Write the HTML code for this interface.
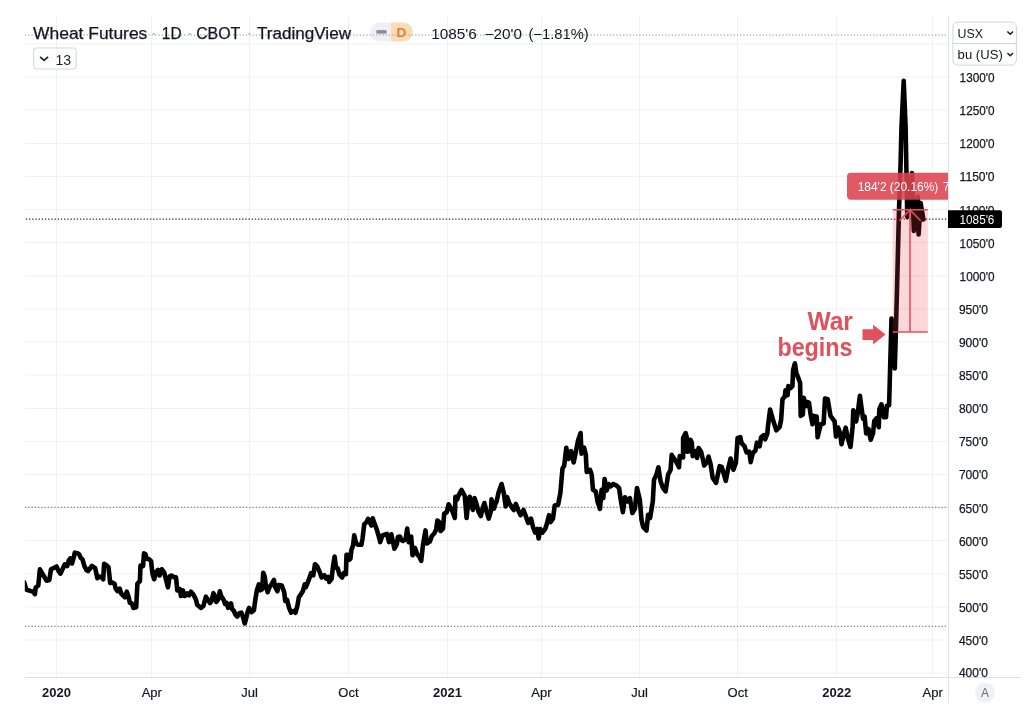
<!DOCTYPE html>
<html><head><meta charset="utf-8"><style>
html,body{margin:0;padding:0;background:#fff;}
body{width:1024px;height:723px;position:relative;overflow:hidden;font-family:"Liberation Sans", sans-serif;}
</style></head><body>
<svg width="1024" height="723" viewBox="0 0 1024 723" style="position:absolute;left:0;top:0;will-change:transform"><clipPath id="pane"><rect x="24.8" y="16" width="923.5" height="661.5"/></clipPath><g stroke="#f0f1f2" stroke-width="1.1"><line x1="25" y1="44.0" x2="948.5" y2="44.0"/><line x1="25" y1="77.0" x2="948.5" y2="77.0"/><line x1="25" y1="110.0" x2="948.5" y2="110.0"/><line x1="25" y1="143.5" x2="948.5" y2="143.5"/><line x1="25" y1="176.5" x2="948.5" y2="176.5"/><line x1="25" y1="209.5" x2="948.5" y2="209.5"/><line x1="25" y1="242.5" x2="948.5" y2="242.5"/><line x1="25" y1="276.0" x2="948.5" y2="276.0"/><line x1="25" y1="309.0" x2="948.5" y2="309.0"/><line x1="25" y1="342.0" x2="948.5" y2="342.0"/><line x1="25" y1="375.0" x2="948.5" y2="375.0"/><line x1="25" y1="408.5" x2="948.5" y2="408.5"/><line x1="25" y1="441.5" x2="948.5" y2="441.5"/><line x1="25" y1="474.5" x2="948.5" y2="474.5"/><line x1="25" y1="507.5" x2="948.5" y2="507.5"/><line x1="25" y1="540.5" x2="948.5" y2="540.5"/><line x1="25" y1="574.0" x2="948.5" y2="574.0"/><line x1="25" y1="607.0" x2="948.5" y2="607.0"/><line x1="25" y1="640.0" x2="948.5" y2="640.0"/><line x1="25" y1="673.0" x2="948.5" y2="673.0"/><line x1="56.5" y1="16" x2="56.5" y2="677.5"/><line x1="151.5" y1="16" x2="151.5" y2="677.5"/><line x1="249.5" y1="16" x2="249.5" y2="677.5"/><line x1="348.5" y1="16" x2="348.5" y2="677.5"/><line x1="447.5" y1="16" x2="447.5" y2="677.5"/><line x1="541.5" y1="16" x2="541.5" y2="677.5"/><line x1="639.5" y1="16" x2="639.5" y2="677.5"/><line x1="737.5" y1="16" x2="737.5" y2="677.5"/><line x1="836.5" y1="16" x2="836.5" y2="677.5"/><line x1="932.5" y1="16" x2="932.5" y2="677.5"/></g><g fill="#9a9da6"><circle cx="154" cy="33.8" r="0.9"/><circle cx="189.8" cy="33.8" r="0.9"/><circle cx="249.3" cy="33.8" r="0.9"/></g><path d="M379.4,22.4 H391 V41.6 H379.4 a9.6,9.6 0 0 1 0,-19.2 Z" fill="#eef0f3"/><path d="M391,22.4 H403.2 a9.6,9.6 0 0 1 0,19.2 H391 Z" fill="#f9dcb3"/><rect x="376" y="30.1" width="10.8" height="3.6" rx="1.8" fill="#8e919b"/><text x="396.6" y="37.2" font-family='"Liberation Sans", sans-serif' font-weight="bold" font-size="13.6" fill="#e9772d">D</text><line x1="25.9" y1="219.1" x2="947.5" y2="219.1" stroke="#2b2b2e" stroke-width="1.3" stroke-dasharray="1.3 1.88"/><g stroke="#80838b" stroke-width="1.3" stroke-dasharray="1.3 1.95"><line x1="25" y1="507.4" x2="947.5" y2="507.4"/><line x1="25" y1="626.3" x2="947.5" y2="626.3"/></g><line x1="25" y1="35" x2="947.0" y2="35" stroke="#b4b7be" stroke-width="1.3" stroke-dasharray="1.3 1.95"/><path d="M24.0,582.0 L26.3,589.5 L28.3,590.3 L31.1,591.1 L33.3,591.8 L34.9,594.2 L35.7,587.6 L38.3,585.4 L39.9,569.3 L42.1,573.2 L46.5,580.7 L49.3,580.0 L51.0,569.3 L53.2,568.2 L56.5,566.5 L58.2,570.4 L60.4,573.7 L62.6,569.0 L64.8,564.3 L67.3,566.0 L68.7,560.8 L70.3,558.3 L72.0,563.5 L73.7,557.7 L74.8,552.7 L77.5,553.3 L79.2,554.4 L80.6,557.7 L82.5,559.4 L84.2,565.4 L86.4,570.1 L88.0,571.0 L91.9,566.0 L95.2,568.2 L97.4,578.2 L99.1,576.5 L101.3,577.1 L103.2,579.3 L104.1,563.8 L106.1,564.9 L108.5,567.1 L110.2,583.1 L112.4,582.6 L114.6,583.7 L115.6,588.6 L117.5,591.1 L119.7,588.6 L121.2,593.5 L123.7,596.0 L125.0,597.3 L126.8,591.7 L128.7,597.3 L129.9,602.9 L131.8,603.5 L133.4,607.9 L136.2,607.2 L137.4,583.6 L139.9,581.1 L140.5,565.5 L143.0,566.2 L144.0,553.4 L145.5,554.3 L146.8,558.7 L149.2,559.3 L151.1,561.2 L152.4,573.6 L154.2,579.2 L156.1,571.8 L158.0,569.9 L159.6,575.5 L161.7,569.3 L164.2,572.4 L166.1,580.0 L167.9,587.3 L169.8,576.1 L171.7,575.5 L174.2,577.4 L176.0,577.4 L177.3,590.4 L179.8,589.2 L181.0,596.0 L182.9,590.4 L184.7,596.0 L187.2,593.5 L189.1,595.4 L191.0,591.7 L193.5,594.8 L196.0,599.8 L197.2,604.8 L200.9,607.9 L203.4,606.0 L205.9,596.7 L210.0,603.0 L211.5,601.0 L213.4,593.2 L214.9,596.1 L216.3,602.0 L218.3,599.1 L219.8,591.3 L221.2,596.1 L223.7,600.0 L225.1,603.9 L226.6,603.0 L228.1,607.9 L231.0,603.5 L232.0,608.8 L233.9,610.8 L235.4,614.7 L237.3,616.6 L239.3,613.2 L241.3,612.7 L242.7,616.2 L244.7,623.5 L246.1,618.6 L247.6,611.8 L249.1,607.9 L251.5,612.2 L253.9,610.3 L255.4,599.1 L256.9,590.3 L258.8,584.4 L260.3,590.3 L262.2,589.3 L263.2,572.7 L264.7,576.6 L265.7,584.4 L267.6,592.2 L269.6,586.9 L271.5,584.4 L274.0,580.0 L274.9,586.4 L277.4,591.3 L278.8,584.9 L281.8,585.4 L284.2,592.2 L285.2,601.0 L287.1,600.0 L289.1,607.9 L291.1,612.7 L294.0,610.8 L295.5,612.7 L297.4,605.9 L298.9,597.1 L300.3,595.2 L302.8,591.3 L304.7,584.4 L305.6,587.4 L307.2,584.1 L310.0,576.4 L311.1,573.1 L313.3,575.3 L315.0,564.2 L317.2,566.4 L319.9,572.5 L321.6,577.5 L324.4,575.3 L326.0,578.6 L328.2,576.9 L329.3,581.9 L331.5,579.1 L333.2,565.3 L334.6,556.5 L336.0,567.5 L337.6,568.1 L339.3,574.2 L342.1,577.5 L343.7,573.1 L345.9,574.2 L346.5,554.8 L348.1,554.8 L349.2,559.8 L350.4,558.7 L351.5,549.8 L353.1,545.4 L354.2,535.4 L356.1,543.2 L358.1,544.8 L361.4,544.8 L362.5,538.8 L364.2,524.4 L366.4,522.2 L368.1,518.8 L370.3,523.3 L371.4,525.5 L372.7,518.3 L374.1,522.2 L376.9,529.9 L379.1,537.7 L380.2,542.1 L382.4,535.4 L386.9,533.8 L389.1,542.1 L391.3,534.3 L393.5,544.3 L394.4,548.7 L396.8,544.3 L397.9,537.1 L400.0,536.6 L401.2,539.8 L403.1,541.0 L405.6,539.1 L407.2,528.5 L408.7,542.2 L411.2,536.6 L412.5,555.3 L414.9,547.9 L417.4,554.7 L419.3,556.6 L421.2,560.9 L423.0,544.7 L425.5,530.4 L426.8,543.5 L429.9,541.6 L431.8,536.0 L434.2,533.5 L436.1,529.8 L437.4,520.5 L439.9,523.0 L440.5,531.0 L443.0,528.5 L444.2,513.6 L446.7,512.4 L448.6,504.3 L450.4,507.4 L452.9,512.4 L454.8,518.0 L455.4,496.8 L457.3,499.3 L458.5,495.5 L461.6,490.0 L464.8,496.2 L466.6,518.0 L467.9,504.9 L469.7,496.8 L471.6,506.8 L472.9,509.9 L474.5,498.0 L476.6,504.3 L478.5,511.7 L480.9,516.1 L482.2,509.9 L484.4,503.0 L486.6,511.7 L488.7,518.6 L490.9,511.1 L491.5,499.3 L494.0,508.6 L495.0,504.8 L496.7,501.3 L498.5,492.7 L501.6,484.0 L503.7,492.7 L505.7,506.5 L507.1,497.0 L509.2,503.0 L511.4,506.5 L513.7,510.0 L515.8,503.9 L518.4,510.8 L520.6,515.2 L523.5,510.0 L526.1,516.9 L528.2,522.9 L531.0,518.6 L533.1,527.3 L535.1,532.5 L537.4,529.0 L538.6,538.5 L540.3,529.0 L542.6,532.5 L545.2,529.0 L546.9,523.8 L549.0,515.2 L550.7,522.1 L553.0,518.6 L554.7,505.6 L558.1,504.8 L560.4,492.7 L562.5,468.4 L564.2,465.8 L566.3,447.7 L568.5,458.9 L571.1,451.1 L573.7,462.4 L576.0,451.1 L578.0,440.8 L580.6,433.0 L581.5,453.7 L584.1,447.7 L585.8,454.6 L586.7,471.9 L589.3,471.0 L590.0,469.8 L591.7,474.8 L593.0,489.8 L595.8,491.4 L597.5,501.4 L600.0,508.9 L601.6,489.8 L603.3,498.1 L604.6,479.0 L606.6,490.6 L608.6,484.0 L610.8,486.4 L613.3,484.0 L616.6,485.6 L619.1,488.1 L620.7,499.7 L622.9,512.2 L624.9,497.2 L627.4,501.4 L629.9,498.1 L632.4,513.0 L634.9,508.9 L637.0,488.1 L639.8,499.7 L641.5,519.7 L643.2,527.1 L646.5,530.5 L648.1,514.7 L650.1,518.0 L652.8,501.4 L654.0,479.8 L656.4,474.8 L658.4,467.3 L660.6,481.5 L663.1,488.1 L665.6,491.4 L668.1,474.8 L670.6,469.8 L671.7,454.9 L676.2,461.7 L679.0,467.3 L679.7,456.1 L683.1,457.4 L683.1,438.1 L685.6,433.1 L686.8,437.4 L687.4,451.8 L689.3,451.1 L690.6,439.9 L691.8,442.4 L692.7,456.1 L695.5,451.1 L697.1,458.0 L698.6,448.0 L701.1,451.8 L703.0,459.8 L704.2,465.4 L707.1,462.1 L708.5,456.5 L710.6,464.2 L712.7,478.0 L716.1,482.8 L719.6,466.2 L721.7,466.9 L725.8,480.8 L727.9,469.7 L730.6,458.6 L733.4,469.7 L735.9,462.8 L737.6,437.9 L740.3,437.2 L741.7,443.4 L744.5,446.2 L746.5,452.4 L749.3,451.7 L750.7,462.1 L752.8,453.1 L755.5,450.3 L756.9,442.7 L759.7,446.2 L761.1,437.2 L763.8,435.1 L765.2,439.3 L767.3,433.7 L768.0,426.1 L770.1,409.5 L772.8,419.2 L776.3,430.3 L779.7,426.8 L781.1,420.0 L782.5,399.3 L784.8,396.5 L785.5,390.3 L787.6,395.1 L788.3,386.1 L790.4,388.2 L792.4,386.1 L793.1,370.2 L794.9,363.3 L796.3,373.0 L798.0,377.1 L800.1,382.7 L800.7,415.9 L802.8,414.5 L803.8,397.9 L805.6,406.2 L807.0,402.0 L809.0,402.7 L810.4,413.1 L812.5,424.2 L813.9,415.9 L816.7,416.5 L817.6,437.3 L820.8,424.2 L823.6,423.5 L825.0,398.6 L827.7,399.3 L830.5,415.9 L832.6,418.6 L834.6,421.4 L836.0,436.6 L838.1,427.6 L840.2,433.8 L841.5,444.2 L843.6,435.2 L845.7,427.6 L847.8,438.0 L850.5,447.0 L852.6,426.9 L853.3,410.3 L856.1,421.4 L857.7,413.1 L859.9,395.8 L861.6,408.3 L863.0,418.6 L864.6,416.5 L866.2,433.5 L868.5,429.0 L870.7,439.8 L873.0,433.5 L874.3,421.0 L876.6,418.2 L878.8,427.2 L879.3,409.3 L881.5,404.3 L883.8,417.3 L886.0,417.3 L886.9,405.7 L889.1,405.2 L891.5,318.5 L894.8,368.5 L897.0,290.0 L899.0,210.0 L900.7,160.0 L901.5,127.0 L903.7,80.8 L905.6,127.0 L907.3,217.0 L912.0,173.0 L913.8,231.0 L917.8,196.5 L918.6,234.5 L920.6,203.0 L923.4,219.5" fill="none" stroke="#000" stroke-width="4.6" clip-path="url(#pane)" stroke-linejoin="round" stroke-linecap="round"/><rect x="892.7" y="209.8" width="35.1" height="122.2" fill="rgba(242,54,69,0.2)"/><g stroke="#e0505d" stroke-width="1.6" fill="none"><line x1="892.7" y1="209.8" x2="927.8" y2="209.8"/><line x1="892.7" y1="332" x2="927.8" y2="332"/><line x1="910" y1="210" x2="910" y2="332"/><polyline points="899.3,220.7 910,210 920.7,220.7"/></g><clipPath id="cp"><rect x="0" y="0" width="948" height="723"/></clipPath><g clip-path="url(#cp)"><rect x="847" y="172.7" width="130" height="27" rx="4" fill="rgba(220,66,80,0.88)"/><text x="857.7" y="190.8" font-size="12.4" fill="#fff" font-family='"Liberation Sans", sans-serif' textLength="80.6" lengthAdjust="spacingAndGlyphs">184'2 (20.16%)</text><text x="942.8" y="190.8" font-size="12.4" fill="#fff" font-family='"Liberation Sans", sans-serif'>7370</text></g><line x1="948.5" y1="16" x2="948.5" y2="703" stroke="#e1e2e6" stroke-width="1"/><line x1="25" y1="677.5" x2="1021" y2="677.5" stroke="#e1e2e6" stroke-width="1"/><g font-family='"Liberation Sans", sans-serif' font-size="12.8" fill="#131722" stroke="#131722" stroke-width="0.25"><text x="959.6" y="82.0" textLength="35" lengthAdjust="spacingAndGlyphs">1300'0</text><text x="959.6" y="115.2" textLength="35" lengthAdjust="spacingAndGlyphs">1250'0</text><text x="959.6" y="148.3" textLength="35" lengthAdjust="spacingAndGlyphs">1200'0</text><text x="959.6" y="181.4" textLength="35" lengthAdjust="spacingAndGlyphs">1150'0</text><text x="959.6" y="214.5" textLength="35" lengthAdjust="spacingAndGlyphs">1100'0</text><text x="959.6" y="247.6" textLength="35" lengthAdjust="spacingAndGlyphs">1050'0</text><text x="959.6" y="280.7" textLength="35" lengthAdjust="spacingAndGlyphs">1000'0</text><text x="958.9" y="313.9" textLength="29" lengthAdjust="spacingAndGlyphs">950'0</text><text x="958.9" y="347.0" textLength="29" lengthAdjust="spacingAndGlyphs">900'0</text><text x="958.9" y="380.1" textLength="29" lengthAdjust="spacingAndGlyphs">850'0</text><text x="958.9" y="413.2" textLength="29" lengthAdjust="spacingAndGlyphs">800'0</text><text x="958.9" y="446.3" textLength="29" lengthAdjust="spacingAndGlyphs">750'0</text><text x="958.9" y="479.4" textLength="29" lengthAdjust="spacingAndGlyphs">700'0</text><text x="958.9" y="512.6" textLength="29" lengthAdjust="spacingAndGlyphs">650'0</text><text x="958.9" y="545.7" textLength="29" lengthAdjust="spacingAndGlyphs">600'0</text><text x="958.9" y="578.8" textLength="29" lengthAdjust="spacingAndGlyphs">550'0</text><text x="958.9" y="611.9" textLength="29" lengthAdjust="spacingAndGlyphs">500'0</text><text x="958.9" y="645.0" textLength="29" lengthAdjust="spacingAndGlyphs">450'0</text><text x="958.9" y="677.2" textLength="29" lengthAdjust="spacingAndGlyphs">400'0</text></g><path d="M948,210.2 H1000 a2,2 0 0 1 2,2 V226 a2,2 0 0 1 -2,2 H948 Z" fill="#000"/><text x="959.6" y="223.5" font-family='"Liberation Sans", sans-serif' font-size="12" fill="#fff" textLength="34.8" lengthAdjust="spacingAndGlyphs">1085'6</text><g font-family='"Liberation Sans", sans-serif' font-size="13" fill="#131722" stroke="#131722" stroke-width="0.2"><text x="56.5" y="697.3" text-anchor="middle" font-weight="bold" stroke-width="0">2020</text><text x="151.8" y="697.3" text-anchor="middle">Apr</text><text x="249.6" y="697.3" text-anchor="middle">Jul</text><text x="348.4" y="697.3" text-anchor="middle">Oct</text><text x="447.5" y="697.3" text-anchor="middle" font-weight="bold" stroke-width="0">2021</text><text x="541.4" y="697.3" text-anchor="middle">Apr</text><text x="639.5" y="697.3" text-anchor="middle">Jul</text><text x="737.7" y="697.3" text-anchor="middle">Oct</text><text x="836.7" y="697.3" text-anchor="middle" font-weight="bold" stroke-width="0">2022</text><text x="932.7" y="697.3" text-anchor="middle">Apr</text></g><circle cx="985" cy="692.6" r="10" fill="#f0f1f4"/><text x="985" y="696.8" text-anchor="middle" font-family='"Liberation Sans", sans-serif' font-size="12" fill="#6a6d78">A</text><g font-family='"Liberation Sans", sans-serif' font-size="16" fill="#131722" stroke="#131722" stroke-width="0.25"><text x="33.1" y="38.7" textLength="114.2" lengthAdjust="spacingAndGlyphs">Wheat Futures</text><text x="161.79999999999998" y="38.7" textLength="19.8" lengthAdjust="spacingAndGlyphs">1D</text><text x="196.2" y="38.7" textLength="44" lengthAdjust="spacingAndGlyphs">CBOT</text><text x="257.0" y="38.7" textLength="94" lengthAdjust="spacingAndGlyphs">TradingView</text></g><text x="431.2" y="38.8" font-family='"Liberation Sans", sans-serif' font-size="14" fill="#131722" textLength="45.6" lengthAdjust="spacingAndGlyphs">1085'6</text><text x="484.5" y="38.8" font-family='"Liberation Sans", sans-serif' font-size="14" fill="#131722" textLength="37.4" lengthAdjust="spacingAndGlyphs">−20'0</text><text x="528.4" y="38.8" font-family='"Liberation Sans", sans-serif' font-size="14" fill="#131722" textLength="60.3" lengthAdjust="spacingAndGlyphs">(−1.81%)</text><rect x="33.6" y="48" width="42.6" height="21" rx="3.5" fill="rgba(255,255,255,0.6)" stroke="#d6d8de" stroke-width="1.1"/><polyline points="40.1,56.8 44.1,60.4 48.1,56.8" fill="none" stroke="#1e222d" stroke-width="1.7"/><text x="55.4" y="64.6" font-family='"Liberation Sans", sans-serif' font-size="14" fill="#1e222d" textLength="15.6" lengthAdjust="spacingAndGlyphs">13</text><rect x="952.9" y="22.1" width="63.5" height="43" rx="5" fill="#fff" stroke="#d1d4dc" stroke-width="1"/><line x1="953" y1="43.6" x2="1016" y2="43.6" stroke="#d1d4dc" stroke-width="1"/><text x="957.6" y="37.6" font-family='"Liberation Sans", sans-serif' font-size="13" fill="#131722" textLength="25.4" lengthAdjust="spacingAndGlyphs">USX</text><text x="957.6" y="59" font-family='"Liberation Sans", sans-serif' font-size="13" fill="#131722" textLength="45.2" lengthAdjust="spacingAndGlyphs">bu (US)</text><polyline points="1007.4,31.4 1010.2,34.2 1013,31.4" fill="none" stroke="#131722" stroke-width="1.4"/><polyline points="1007.4,53 1010.2,55.8 1013,53" fill="none" stroke="#131722" stroke-width="1.4"/><g font-family='"Liberation Sans", sans-serif' font-weight="bold" font-size="25.5" fill="#e0505d"><text x="807.4" y="330.2" textLength="45.5" lengthAdjust="spacingAndGlyphs">War</text><text x="777.4" y="356" textLength="75.2" lengthAdjust="spacingAndGlyphs">begins</text></g><path d="M862.5,329.2 H873.1 V324.7 L885.6,334.6 L873.1,344.4 V339.9 H862.5 Z" fill="#e0505d"/></svg>
</body></html>
